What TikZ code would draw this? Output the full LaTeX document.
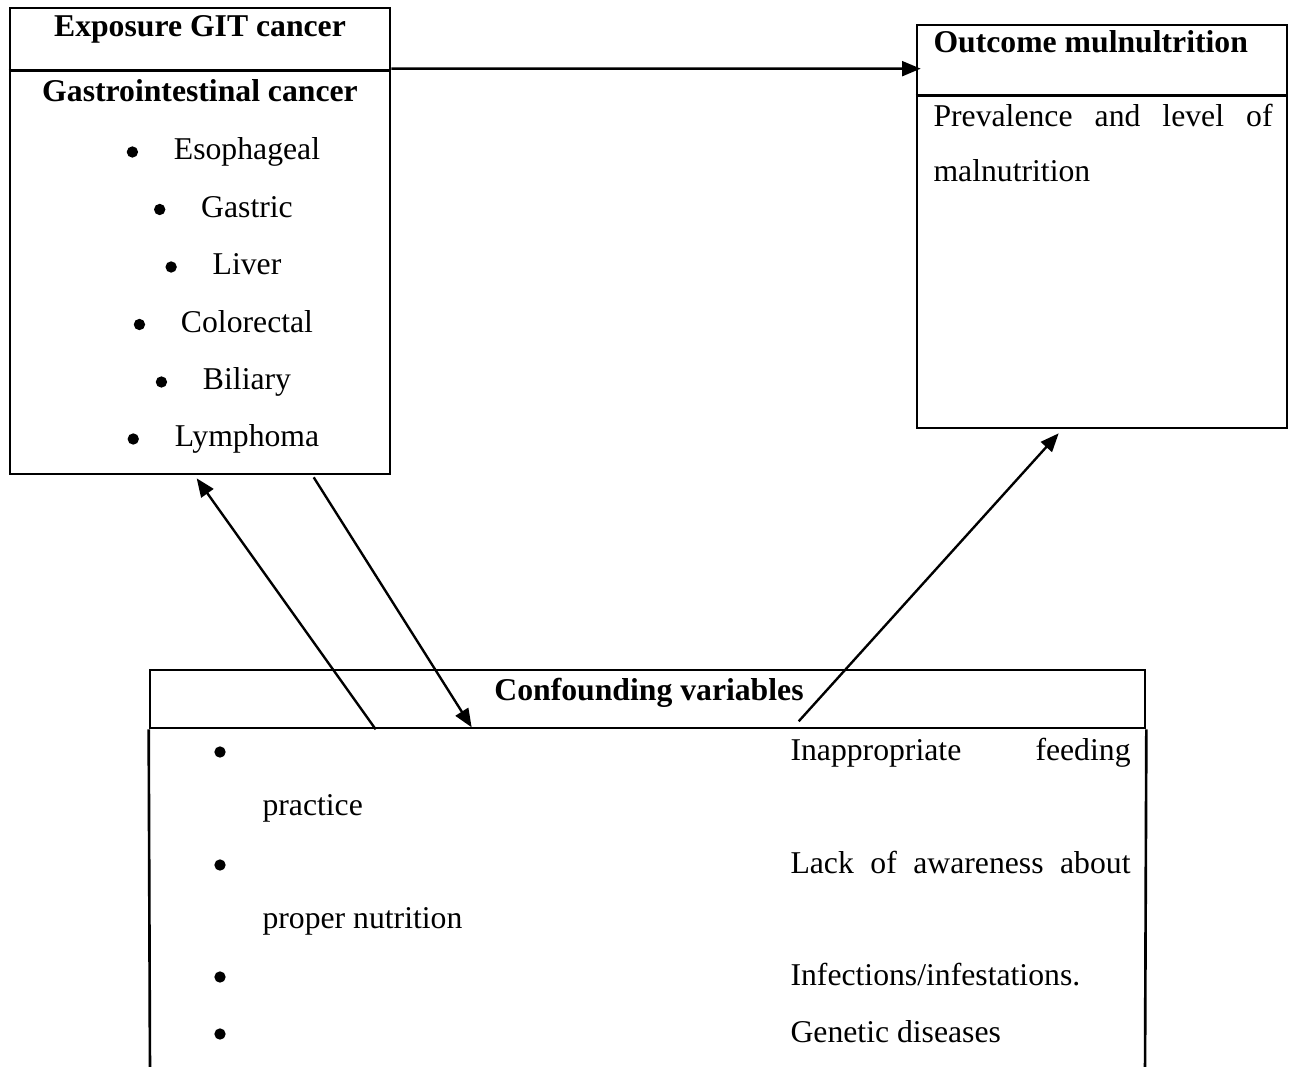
\documentclass[tikz,border=0pt]{standalone}
\usepackage{fontspec}
\setmainfont{Liberation Serif}
\usetikzlibrary{arrows.meta,fit,calc}
\begin{document}
\begin{tikzpicture}[x=0.3785pt,y=-0.3785pt,
  boxline/.style={line width=1pt},
  frame/.style={draw,line width=1pt,inner sep=0pt},
  arr/.style={line width=0.9pt,-{Triangle[length=7pt,width=5.6pt]}},
  txt/.style={inner sep=0pt,font=\fontsize{12pt}{14pt}\selectfont},
  btxt/.style={txt,font=\fontsize{12pt}{14pt}\selectfont\bfseries},
  bul/.style={fill=black,circle,inner sep=0pt,minimum size=4.3pt}]
\useasboundingbox (0,0) rectangle (1293,1067);
% boxes
\coordinate (e1) at (10,8);  \coordinate (e2) at (390,474);
\node[frame,fit=(e1)(e2)] (exp) {};
\draw[boxline] ($(exp.north west)+(0,64)$) -- ($(exp.north east)+(0,64)$);
\coordinate (o1) at (917,25); \coordinate (o2) at (1287,428);
\node[frame,fit=(o1)(o2)] (out) {};
\draw[boxline] ($(out.north west)+(0,72)$) -- ($(out.north east)+(0,72)$);
\coordinate (c1) at (150,670); \coordinate (c2) at (1145,728);
\node[frame,fit=(c1)(c2)] (conf) {};
\coordinate (cbl) at (150,1075); \coordinate (cbr) at (1145,1075);
\draw[boxline] (conf.south west) -- (cbl);
\draw[boxline] (conf.south east) -- (cbr);
% left box text
\node[btxt,anchor=base] (t1) at (200,37) {Exposure GIT cancer};
\node[btxt,anchor=base] (t2) at (200,102) {Gastrointestinal cancer};
\node[txt,anchor=base] (l1) at (247,160) {Esophageal};
\node[txt,anchor=base] (l2) at (247,217.5) {Gastric};
\node[txt,anchor=base] (l3) at (247,275) {Liver};
\node[txt,anchor=base] (l4) at (247,332.5) {Colorectal};
\node[txt,anchor=base] (l5) at (247,390) {Biliary};
\node[txt,anchor=base] (l6) at (247,447) {Lymphoma};
\foreach \n in {l1,l2,l3,l4,l5,l6}
  \node[bul] (b\n) at ($(\n.base west)+(-41,-8)$) {};
% right box text
\node[btxt,anchor=base west] (r1) at (933,53) {Outcome mulnultrition};
\node[txt,anchor=base west] (r2) at (933,127) {\makebox[128.3pt][s]{Prevalence and level of}};
\node[txt,anchor=base west] (r3) at (933,182) {malnutrition};
% confounding text
\node[btxt,anchor=base] (c0) at (649,700) {Confounding variables};
\node[txt,anchor=base west] (k1) at (790,760) {\makebox[128.7pt][s]{Inappropriate feeding}};
\node[txt,anchor=base west] (k1b) at (262,815) {practice};
\node[txt,anchor=base west] (k2) at (790,873) {\makebox[128.7pt][s]{Lack of awareness about}};
\node[txt,anchor=base west] (k2b) at (262,928) {proper nutrition};
\node[txt,anchor=base west] (k3) at (790,985) {Infections/infestations.};
\node[txt,anchor=base west] (k4) at (790,1042) {Genetic diseases};
\foreach \n in {k1,k2,k3,k4}
  \node[bul] (b\n) at ($(\n.base west -| 220,0)+(0,-8)$) {};
% arrows
\draw[arr] ($(exp.north east)+(0,62)$) -- ($(out.north west)+(5,45)$);
\draw[arr] ($(conf.south west)+(227,0)$) -- ($(exp.south west)+(188,3)$);
\draw[arr] ($(exp.south west)+(305,2)$) -- ($(conf.south west)+(323,-2)$);
\draw[arr] ($(conf.south west)+(650,-8)$) -- ($(out.south west)+(143,4)$);
\end{tikzpicture}
\end{document}
